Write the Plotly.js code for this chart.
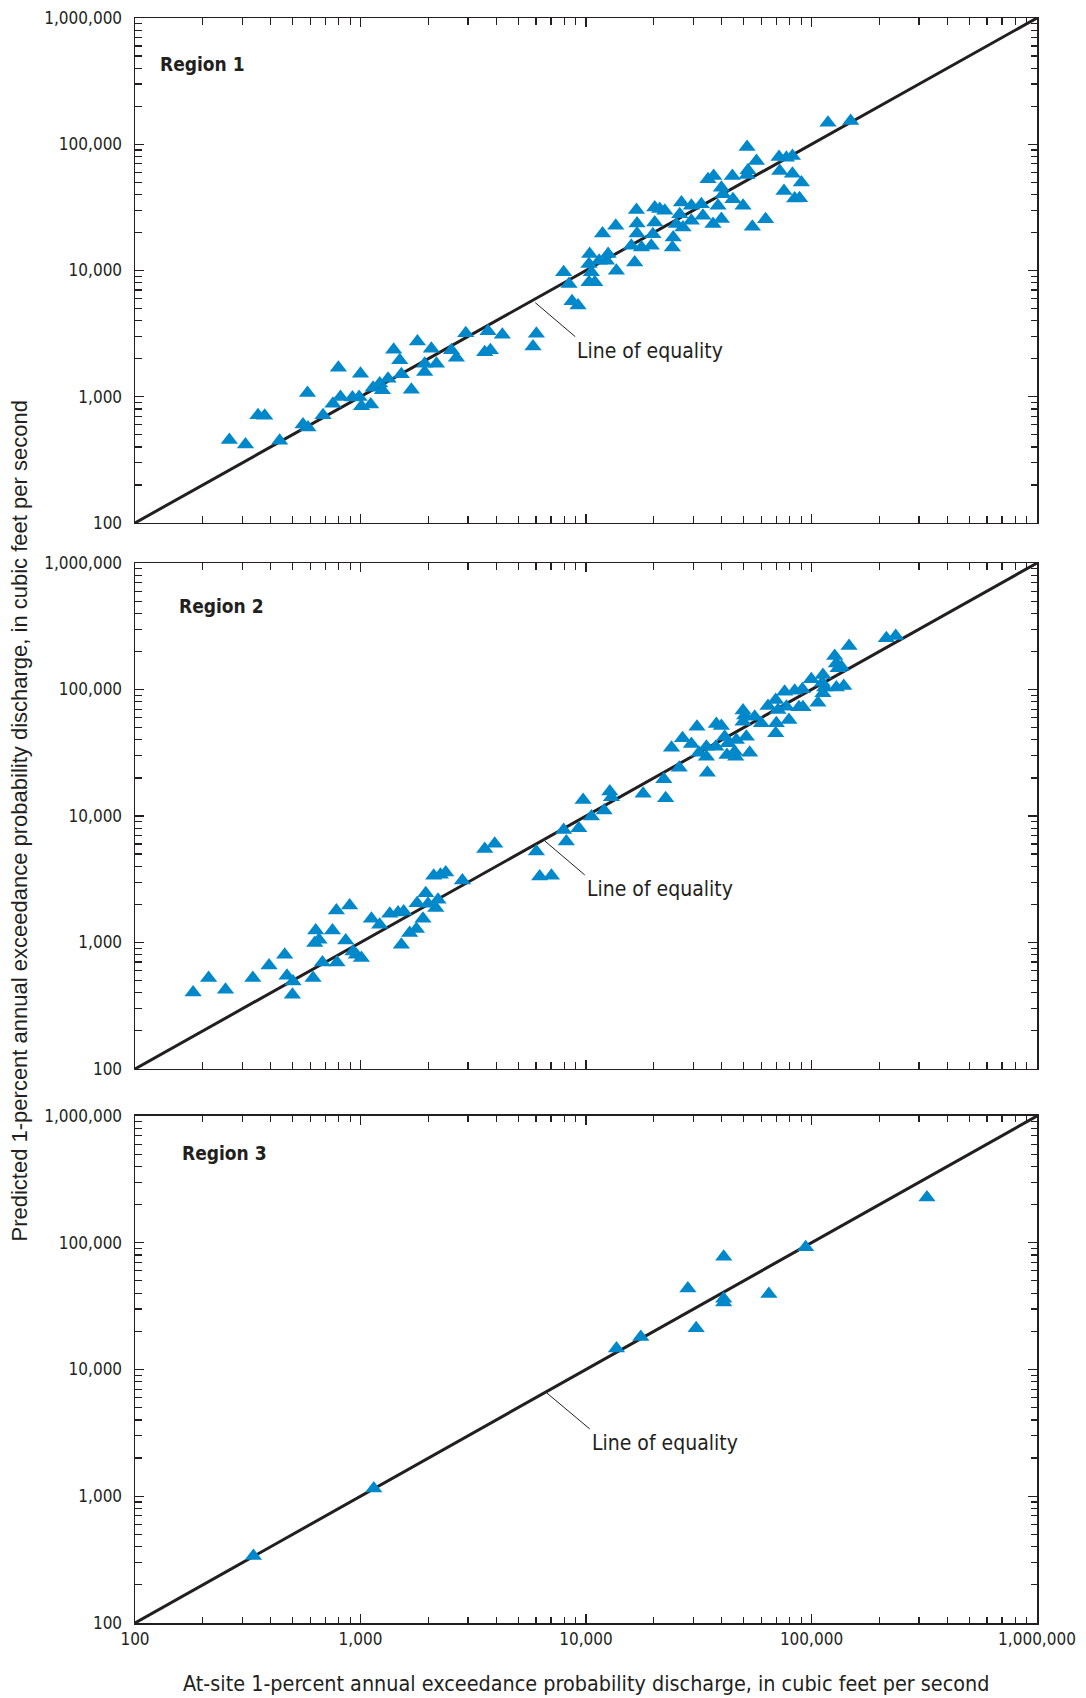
<!DOCTYPE html>
<html>
<head>
<meta charset="utf-8">
<script src="https://cdn.plot.ly/plotly-3.0.1.min.js"></script>
<style>
  html, body { margin: 0; padding: 0; background: #ffffff; }
  #chart { width: 1086px; height: 1698px; }
</style>
</head>
<body>
<div id="chart"></div>
<script>
// ---------------- Data ----------------
// Region 1: at-site 1-percent AEP discharge (x) vs predicted (y), cubic feet per second
const region1X = [262, 309, 351, 376, 438, 582, 556, 585, 682, 798, 755, 815, 921, 986, 1010, 1000, 1110, 1137, 1217, 1251,
  1325, 1403, 1493, 1518, 1681, 1788, 1926, 1926, 2062, 2172, 2531, 2663, 2929, 3677, 3556, 3767, 4256, 6026, 5821,
  7962, 8405, 8670, 9220, 10380, 10310, 10560, 10310, 10940, 11430, 12530, 12330, 11840, 13550, 13640, 16440, 16740,
  16840, 16840, 15890, 17630, 20180, 21240, 22360, 20180, 19800, 19480, 26500, 26040, 25160, 26920, 24360, 24160,
  29330, 32470, 33000, 29330, 34760, 36830, 36580, 39850, 39850, 40510, 38500, 44570, 44840, 49700, 51790, 52300,
  54670, 57000, 118300, 149200, 51790, 71780, 77400, 82300, 72300, 82300, 90200, 75500, 84200, 88500, 62600];
const region1Y = [453, 419, 713, 705, 447, 1069, 602, 570, 713, 1698, 881, 995, 984, 995, 840, 1520, 867, 1180, 1270, 1124,
  1390, 2355, 1941, 1503, 1137, 2742, 1824, 1566, 2400, 1824, 2328, 2038, 3185, 3305, 2253, 2328, 3094, 3150, 2500,
  9665, 7817, 5702, 5272, 13490, 11250, 9665, 8050, 8050, 11940, 13490, 11940, 19640, 22590, 9960, 11580, 30080,
  23560, 19640, 15700, 15230, 31560, 30630, 29720, 23990, 19400, 15700, 34540, 27930, 23290, 21930, 18280, 15230,
  32500, 33490, 27100, 24720, 52720, 56050, 23290, 25520, 45290, 40110, 32500, 56050, 36700, 32500, 95000, 62230,
  22200, 73600, 147900, 152500, 57100, 79200, 78200, 80700, 61400, 58400, 49700, 42700, 37100, 37400, 25500];

// Region 2
const region2X = [181, 212, 252, 333, 393, 461, 472, 502, 499, 616, 633, 627, 655, 678, 751, 782, 787, 860, 895, 926,
  959, 1009, 1118, 1216, 1348, 1467, 1554, 1518, 1652, 1770, 1893, 1782, 1947, 1993, 2157, 2207, 2112, 2262, 2387,
  2831, 3556, 3938, 6027, 6233, 7026, 8180,
  7960, 9290, 9710, 10570, 12030, 12750, 12970, 17920, 22150, 22560, 25900,
  34530, 23950, 26790, 29330, 31050, 31700, 34200, 34200, 37850, 39850, 37640, 41200, 42650, 45630, 46440, 51400,
  53200, 49700, 50550, 55990, 59950, 49700, 64150, 69390, 71010, 69830, 69390, 77400, 79450, 76000, 84200, 91100,
  88000, 91650, 99800, 106800, 112400, 111700, 114400, 112400, 126700, 128900, 131200, 135700, 128900, 139000,
  146700, 214800, 236300, 42170, 46130];
const region2Y = [403, 523, 423, 523, 658, 800, 546, 492, 386, 523, 1245, 989, 1050, 695, 1245, 1790, 695, 1037, 1959, 849,
  800, 753, 1540, 1380, 1687, 1727, 1757, 960, 1186, 1276, 1540, 2047, 2455, 2024, 1871, 2174, 3364, 3428, 3573,
  3090, 5495, 6025, 5235, 3321, 3364, 6280,
  7760, 8020, 13400, 9890, 11040, 15600, 14090, 14970, 19550, 13830, 24100,
  22010, 34670, 41120, 37130, 50800, 31700, 35320, 29440, 53330, 51500, 35320, 42360, 37570, 32280, 39880, 42360,
  31700, 68400, 62400, 60950, 54030, 55710, 74130, 82650, 68800, 54030, 45080, 73150, 57410, 96200, 97900, 100400,
  72300, 72300, 120500, 78700, 130300, 113200, 104000, 93300, 184100, 161000, 147200, 151500, 104000, 106600,
  221000, 254300, 265000, 30400, 29440];

// Region 3
const region3X = [335, 1145, 13650, 17500, 28300, 30800, 40800, 40800, 40800, 64700, 94200, 325000];
const region3Y = [338, 1150, 14660, 18030, 43600, 21200, 77600, 36200, 33800, 39400, 92300, 227500];

// Line of equality end points
const equalityX = [100, 1000000];
const equalityY = [100, 1000000];

// Axis ticks
const tickVals = [100, 1000, 10000, 100000, 1000000];
const tickText = ['100', '1,000', '10,000', '100,000', '1,000,000'];
const panelNames = ['Region 1', 'Region 2', 'Region 3'];
const equalityLabel = 'Line of equality';
const xTitle = 'At-site 1-percent annual exceedance probability discharge, in cubic feet per second';
const yTitle = 'Predicted 1-percent annual exceedance probability discharge, in cubic feet per second';

// ---------------- Styling ----------------
const INK = '#231f20';
const BLUE = '#0088cb';
const NARROW = 'Liberation Sans Narrow, Arial Narrow, DejaVu Sans Condensed, sans-serif';
const REGULAR = 'Liberation Sans, Arial, Helvetica, sans-serif';

// minor tick positions (2..9 within each decade)
const minorVals = [];
for (let d = 100; d < 1000000; d *= 10) {
  for (let k = 2; k <= 9; k++) minorVals.push(d * k);
}

function axisBase() {
  return {
    type: 'log',
    range: [2, 6],
    tickmode: 'array',
    tickvals: tickVals,
    ticktext: tickText,
    ticks: 'inside',
    ticklen: 9,
    tickwidth: 1.2,
    tickcolor: INK,
    showline: true,
    linecolor: INK,
    linewidth: 1.5,
    mirror: 'ticks',
    showgrid: false,
    zeroline: false,
    fixedrange: true,
    tickfont: { family: NARROW, size: 17, color: INK },
    minor: {
      tickmode: 'array',
      tickvals: minorVals,
      ticks: 'inside',
      ticklen: 6.5,
      tickwidth: 1.2,
      tickcolor: INK,
      showgrid: false
    }
  };
}

const yDomains = [[0.6854, 1.0], [0.3452, 0.6604], [0.0, 0.3159]];

const layout = {
  width: 1086,
  height: 1698,
  margin: { l: 135, r: 49, t: 18, b: 75 },
  paper_bgcolor: '#ffffff',
  plot_bgcolor: '#ffffff',
  showlegend: false,
  font: { family: NARROW, color: INK },
  annotations: [],
  shapes: []
};

for (let i = 0; i < 3; i++) {
  const sx = i === 0 ? '' : String(i + 1);
  const xa = axisBase();
  xa.anchor = 'y' + sx;
  xa.showticklabels = (i === 2);
  xa.ticklabelstandoff = 0;
  const ya = axisBase();
  ya.anchor = 'x' + sx;
  ya.domain = yDomains[i];
  ya.ticklabelstandoff = 8;
  layout['xaxis' + sx] = xa;
  layout['yaxis' + sx] = ya;
}

const regionPos = [[0.026, 0.908], [0.047, 0.915], [0.050, 0.926]];
const leader = [
  { x: 3.775, y: 3.745, ax: 40, ay: 34 },
  { x: 3.817, y: 3.803, ax: 40, ay: 34 },
  { x: 3.826, y: 3.815, ax: 43, ay: 36 }
];

for (let i = 0; i < 3; i++) {
  const sx = i === 0 ? '' : String(i + 1);
  layout.annotations.push({
    xref: 'x' + sx + ' domain', yref: 'y' + sx + ' domain',
    x: regionPos[i][0], y: regionPos[i][1],
    xanchor: 'left', yanchor: 'middle',
    text: '<b>' + panelNames[i] + '</b>',
    showarrow: false,
    font: { family: NARROW, size: 19, color: INK }
  });
  layout.annotations.push({
    xref: 'x' + sx, yref: 'y' + sx,
    x: leader[i].x, y: leader[i].y,
    ax: leader[i].ax, ay: leader[i].ay,
    axref: 'pixel', ayref: 'pixel',
    xanchor: 'left', yanchor: 'top',
    text: equalityLabel,
    showarrow: true, arrowhead: 0, arrowwidth: 1, arrowcolor: INK,
    font: { family: NARROW, size: 21, color: INK }
  });
}

layout.annotations.push({
  xref: 'paper', yref: 'paper',
  x: -0.128, y: 0.4997,
  xanchor: 'center', yanchor: 'middle',
  textangle: -90,
  text: yTitle,
  showarrow: false,
  font: { family: REGULAR, size: 22, color: INK }
});
layout.annotations.push({
  xref: 'paper', yref: 'paper',
  x: 0.5, y: -0.0374,
  xanchor: 'center', yanchor: 'middle',
  text: xTitle,
  showarrow: false,
  font: { family: NARROW, size: 21.4, color: INK }
});

const series = [[region1X, region1Y], [region2X, region2Y], [region3X, region3Y]];
const traces = [];
for (let i = 0; i < 3; i++) {
  const sx = i === 0 ? '' : String(i + 1);
  traces.push({
    type: 'scatter', mode: 'lines',
    x: equalityX, y: equalityY,
    xaxis: 'x' + sx, yaxis: 'y' + sx,
    line: { color: INK, width: 3 },
    hoverinfo: 'skip'
  });
  traces.push({
    type: 'scatter', mode: 'markers',
    x: series[i][0], y: series[i][1],
    xaxis: 'x' + sx, yaxis: 'y' + sx,
    name: panelNames[i],
    marker: { symbol: 'triangle-up', size: 15, color: BLUE, line: { width: 0 } },
    cliponaxis: false
  });
}

Plotly.newPlot('chart', traces, layout, { displayModeBar: false, staticPlot: true });
</script>
</body>
</html>
